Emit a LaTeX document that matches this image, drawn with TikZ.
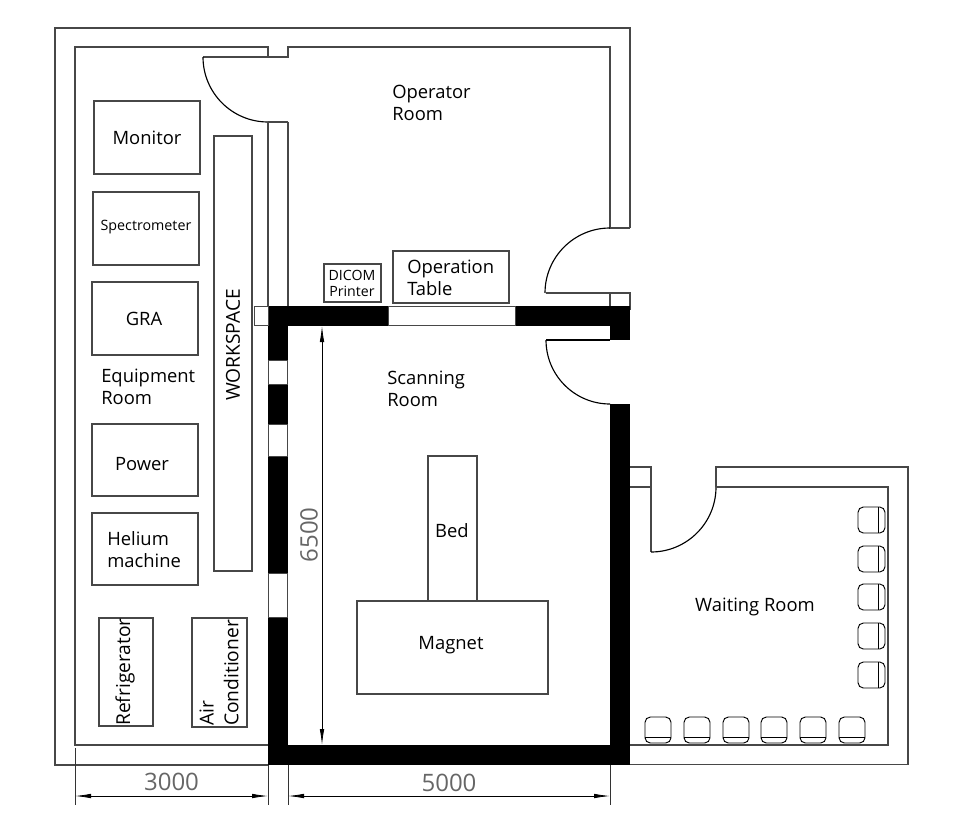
\documentclass[tikz,border=0pt]{standalone}
\usepackage{fontspec}
\setmainfont{Open Sans}
\usetikzlibrary{arrows.meta}
\definecolor{wall}{gray}{0.28}
\tikzset{
  wl/.style={draw=wall,line width=0.85pt},
  arcl/.style={draw=black,line width=0.85pt},
  win/.style={fill=white,draw=wall,line width=0.6pt},
  equip/.style={draw=wall,line width=0.8pt,fill=white,anchor=north west,inner sep=0pt,outer sep=0pt,align=center,text=black},
  lbl/.style={font=\fontsize{13.8}{16.5}\selectfont,align=left,inner sep=0pt,text=black},
  vlbl/.style={font=\fontsize{14.4}{18.5}\selectfont,align=left,inner sep=0pt,text=black,rotate=90},
  dimtxt/.style={font=\fontsize{18}{20}\selectfont,text=black!60,inner sep=0pt},
  dimline/.style={draw=black,line width=0.6pt,{Latex[length=12pt,width=3.4pt]}-{Latex[length=12pt,width=3.4pt]}},
  extline/.style={draw=black!80,line width=0.7pt},
  seat/.style={draw=black,line width=0.7pt,rounded corners=4pt}
}
\begin{document}
\begin{tikzpicture}[x=0.75pt,y=-0.75pt]
\useasboundingbox (0,0) rectangle (959,820);
% outer walls of the left block
\draw[wl] (630,228) -- (630,28) -- (55,28) -- (55,765) -- (268,765);
\draw[wl] (268,745) -- (75,745) -- (75,47) -- (268,47) -- (268,57) -- (288,57) -- (288,47) -- (610,47) -- (610,228) -- (630,228);
% door to equipment room
\draw[wl] (203,57) -- (268,57);
\draw[arcl] (203,57) arc[start angle=180,end angle=90,radius=65];
\draw[wl] (268,122) -- (288,122);
\draw[wl] (268,122) -- (268,306);
\draw[wl] (288,122) -- (288,306);
% door operator room
\draw[arcl] (610,228) arc[start angle=270,end angle=180,radius=65];
\draw[wl] (546,293) -- (630,293) -- (630,310);
\draw[wl] (610,293) -- (610,310);
% black walls
\fill[black] (268,306) rectangle (630,326);
\fill[black] (610,306) rectangle (630,340);
\fill[black] (268,306) rectangle (288,765);
\fill[black] (268,745) rectangle (630,765);
\fill[black] (610,404) rectangle (630,765);
% windows
\draw[win] (388,306.5) rectangle (515,325.5);
\draw[win] (254,306.5) rectangle (268,325.5);
\draw[win] (268.5,360) rectangle (287.5,384);
\draw[win] (268.5,424) rectangle (287.5,456);
\draw[win] (268.5,573) rectangle (287.5,617);
% scanning room door
\draw[arcl] (546,340) -- (610,340);
\draw[arcl] (546,340) arc[start angle=180,end angle=90,radius=64];
% waiting room
\draw[wl] (630,467) -- (651,467) -- (651,552);
\draw[wl] (630,487) -- (651,487);
\draw[arcl] (651,552) arc[start angle=90,end angle=0,radius=65];
\draw[wl] (716,487) -- (716,467) -- (908,467) -- (908,764.5) -- (630,764.5);
\draw[wl] (716,487) -- (888,487) -- (888,745) -- (630,745);
% seats, right
\foreach \y in {507,546,584,623,662}{
  \draw[seat] (858,\y) rectangle (885,\y+26);
  \draw[black,line width=0.7pt] (878,\y) -- (878,\y+26);
}
% seats, bottom
\foreach \x in {645,684,723,761,800,839}{
  \draw[seat] (\x,717) rectangle (\x+26,743);
  \draw[black,line width=0.7pt] (\x,737) -- (\x+26,737);
}
% equipment
\node[equip,minimum width=79.5pt,minimum height=54.75pt] (monitor) at (94,101) {};
\node[lbl] at (147,138) {Monitor};
\node[equip,minimum width=79.5pt,minimum height=54.75pt] (spec) at (93,192) {};
\node[lbl,font=\fontsize{10.7}{12}\selectfont] at (146,227.5) {Spectrometer};
\node[equip,minimum width=79.5pt,minimum height=54.75pt] (gra) at (92,282) {};
\node[lbl] at (144,319) {GRA};
\node[equip,minimum width=79.5pt,minimum height=54pt] (power) at (92,424) {};
\node[lbl] at (142,464) {Power};
\node[equip,minimum width=79.5pt,minimum height=54pt] (helium) at (92,513) {};
\node[lbl,anchor=west] at (107,549.5) {Helium\\machine};
\node[lbl,anchor=west] at (101,387) {Equipment\\Room};
\node[equip,minimum width=40.5pt,minimum height=81pt] (fridge) at (99,618) {};
\node[vlbl] at (125,672) {Refrigerator};
\node[equip,minimum width=41.25pt,minimum height=81.75pt] (ac) at (192,618) {};
\node[vlbl] at (219,673) {Air\\Conditioner};
\node[equip,minimum width=28.5pt,minimum height=326.25pt] (work) at (214,136) {};
\node[vlbl] at (233,345) {WORKSPACE};
% operator room
\node[equip,minimum width=87pt,minimum height=39pt] (optable) at (393,251) {};
\node[lbl,anchor=west] at (407,278) {Operation\\Table};
\node[equip,minimum width=42.75pt,minimum height=28.5pt] (dicom) at (324,264) {};
\node[lbl,align=center,font=\fontsize{10.6}{12}\selectfont] at (352,283) {DICOM\\Printer};
\node[lbl,anchor=west] at (392,103) {Operator\\Room};
% scanning room
\node[lbl,anchor=west] at (387,389) {Scanning\\Room};
\node[equip,minimum width=36.75pt,minimum height=108.75pt] (bed) at (428,456) {};
\node[lbl] at (452,531) {Bed};
\node[equip,minimum width=143.25pt,minimum height=69.75pt] (magnet) at (357,601) {};
\node[lbl] at (451,645) {Magnet};
\node[lbl] at (755,607) {Waiting Room};
% dimensions
\coordinate (d1a) at (322,326);
\coordinate (d1b) at (322,745);
\draw[dimline] (d1a) -- (d1b);
\node[dimtxt,rotate=90] at (309,535) {6500};
\coordinate (l1) at (75,796); \coordinate (l2) at (268,796);
\coordinate (l3) at (288,796); \coordinate (l4) at (610,796);
\draw[dimline] (l1) -- (l2);
\draw[dimline] (l3) -- (l4);
\draw[extline] (75,748) -- (75,805);
\draw[extline] (268,765) -- (268,805);
\draw[extline] (288,765) -- (288,805);
\draw[extline] (610,765) -- (610,805);
\node[dimtxt] at (171.5,782) {3000};
\node[dimtxt] at (449,783) {5000};
\end{tikzpicture}
\end{document}
